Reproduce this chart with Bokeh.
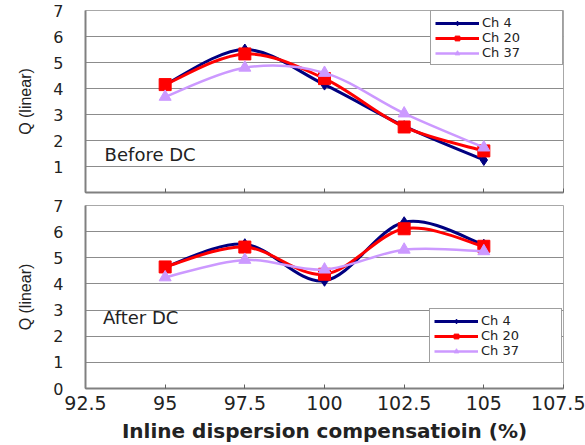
import numpy as np
from bokeh.plotting import figure
from bokeh.layouts import column
from bokeh.models import Legend, LegendItem, Label, FixedTicker, ColumnDataSource, Range1d
from bokeh.embed import file_html
from bokeh.resources import INLINE

# ---------------- data ----------------
x_vals = [95, 97.5, 100, 102.5, 105]
series_names = ["Ch 4", "Ch 20", "Ch 37"]

before_ch4 = [4.15, 5.50, 4.15, 2.55, 1.25]
before_ch20 = [4.15, 5.33, 4.38, 2.52, 1.60]
before_ch37 = [3.68, 4.80, 4.60, 3.04, 1.73]

after_ch4 = [4.65, 5.52, 4.12, 6.36, 5.50]
after_ch20 = [4.65, 5.41, 4.37, 6.11, 5.44]
after_ch37 = [4.25, 4.92, 4.55, 5.31, 5.25]

x_ticks = [92.5, 95, 97.5, 100, 102.5, 105, 107.5]
x_tick_labels = ["92.5", "95", "97.5", "100", "102.5", "105", "107.5"]
top_y_ticks = [1, 2, 3, 4, 5, 6, 7]
bottom_y_ticks = [0, 1, 2, 3, 4, 5, 6, 7]

# ---------------- styles ----------------
colors = ["#000080", "#ff0000", "#cc99ff"]
markers = ["diamond", "square", "triangle"]
msizes = [11, 12, 12]
lwidths = [3, 3, 2.5]
FONT = "DejaVu Sans"
TXT = "#222222"


def smooth_source(xs, ys):
    xs = np.asarray(xs, float)
    ys = np.asarray(ys, float)
    n = len(xs)
    px = np.concatenate([[xs[0]], xs, [xs[-1]]])
    py = np.concatenate([[ys[0]], ys, [ys[-1]]])
    d = dict(x0=[], y0=[], x1=[], y1=[], cx0=[], cy0=[], cx1=[], cy1=[])
    for i in range(n - 1):
        a, b, c, e = i, i + 1, i + 2, i + 3
        d["x0"].append(px[b]); d["y0"].append(py[b])
        d["x1"].append(px[c]); d["y1"].append(py[c])
        d["cx0"].append(px[b] + (px[c] - px[a]) / 6.0)
        d["cy0"].append(py[b] + (py[c] - py[a]) / 6.0)
        d["cx1"].append(px[c] - (px[e] - px[b]) / 6.0)
        d["cy1"].append(py[c] - (py[e] - py[b]) / 6.0)
    return ColumnDataSource(d)


def make_fig(height, border_top, border_bottom, y_ticks, show_x_labels):
    p = figure(width=585, height=height, output_backend="svg", toolbar_location=None,
               x_range=Range1d(92.5, 107.5), y_range=Range1d(0, 7),
               min_border_left=85, min_border_right=22,
               min_border_top=border_top, min_border_bottom=border_bottom)
    p.background_fill_color = "white"
    p.border_fill_color = "white"
    p.outline_line_color = "#a8a8a8"
    p.outline_line_width = 1
    p.xgrid.visible = False
    p.ygrid.grid_line_color = "#8c8c8c"
    p.ygrid.grid_line_width = 1
    p.ygrid.ticker = FixedTicker(ticks=bottom_y_ticks)

    p.yaxis.ticker = FixedTicker(ticks=y_ticks)
    p.yaxis.axis_label = "Q (linear)"
    p.yaxis.axis_label_text_font = "Liberation Sans"
    p.yaxis.axis_label_text_font_size = "16px"
    p.yaxis.axis_label_text_font_style = "normal"
    p.yaxis.axis_label_text_color = TXT
    p.yaxis.axis_label_standoff = 16
    p.yaxis.major_label_text_font = FONT
    p.yaxis.major_label_text_font_size = "16px"
    p.yaxis.major_label_text_color = TXT
    p.yaxis.major_label_standoff = 22
    p.yaxis.major_tick_in = 0
    p.yaxis.major_tick_out = 0
    p.yaxis.minor_tick_line_color = None
    p.yaxis.axis_line_color = "#808080"
    p.yaxis.axis_line_width = 2

    p.xaxis.ticker = FixedTicker(ticks=x_ticks)
    p.xaxis.minor_tick_line_color = None
    p.xaxis.major_tick_in = 4
    p.xaxis.major_tick_out = 0
    p.xaxis.major_tick_line_color = "#606060"
    p.xaxis.axis_line_color = "#808080"
    p.xaxis.axis_line_width = 2
    if show_x_labels:
        p.xaxis.major_label_overrides = {t: s for t, s in zip(x_ticks, x_tick_labels)}
        p.xaxis.major_label_text_font = FONT
        p.xaxis.major_label_text_font_size = "19px"
        p.xaxis.major_label_text_color = TXT
        p.xaxis.major_label_standoff = 7
        p.xaxis.axis_label = "Inline dispersion compensatioin (%)"
        p.xaxis.axis_label_text_font = FONT
        p.xaxis.axis_label_text_font_size = "20px"
        p.xaxis.axis_label_text_font_style = "bold"
        p.xaxis.axis_label_text_color = TXT
        p.xaxis.axis_label_standoff = 6
    else:
        p.xaxis.major_label_overrides = {t: "" for t in x_ticks}
        p.xaxis.major_label_standoff = 0
    return p


def add_series(p, data_list, legend_loc):
    items = []
    for name, ys, col, mk, ms, lw in zip(series_names, data_list, colors, markers, msizes, lwidths):
        src = smooth_source(x_vals, ys)
        r_line = p.bezier(x0="x0", y0="y0", x1="x1", y1="y1", cx0="cx0", cy0="cy0",
                          cx1="cx1", cy1="cy1", source=src, line_color=col, line_width=lw)
        r_pts = p.scatter(x=x_vals, y=ys, marker=mk, size=ms, fill_color=col, line_color=col)
        items.append(LegendItem(label=name, renderers=[r_line, r_pts]))
    leg = Legend(items=items, location=legend_loc)
    leg.label_text_font = FONT
    leg.label_text_font_size = "13px"
    leg.label_text_color = TXT
    leg.glyph_width = 44
    leg.glyph_height = 12
    leg.label_height = 12
    leg.label_width = 76
    leg.label_standoff = 3
    leg.spacing = 0
    leg.padding = 4
    leg.margin = 0
    leg.border_line_color = "#404040"
    leg.border_line_width = 1.5
    leg.background_fill_color = "white"
    leg.background_fill_alpha = 1
    p.add_layout(leg, "center")


# top plot (Before DC)
p1 = make_fig(197, 10, 5, top_y_ticks, False)
add_series(p1, [before_ch4, before_ch20, before_ch37], "top_right")
p1.add_layout(Label(x=93.1, y=1.46, text="Before DC", text_font=FONT, text_font_size="18px",
                    text_color=TXT, text_baseline="middle"))

# bottom plot (After DC)
p2 = make_fig(248, 8, 57, bottom_y_ticks, True)
add_series(p2, [after_ch4, after_ch20, after_ch37], (344, 25))
p2.add_layout(Label(x=93.05, y=2.7, text="After DC", text_font=FONT, text_font_size="18px",
                    text_color=TXT, text_baseline="middle"))

layout = column(p1, p2, spacing=0)
open("out.html", "w").write(file_html(layout, INLINE))
